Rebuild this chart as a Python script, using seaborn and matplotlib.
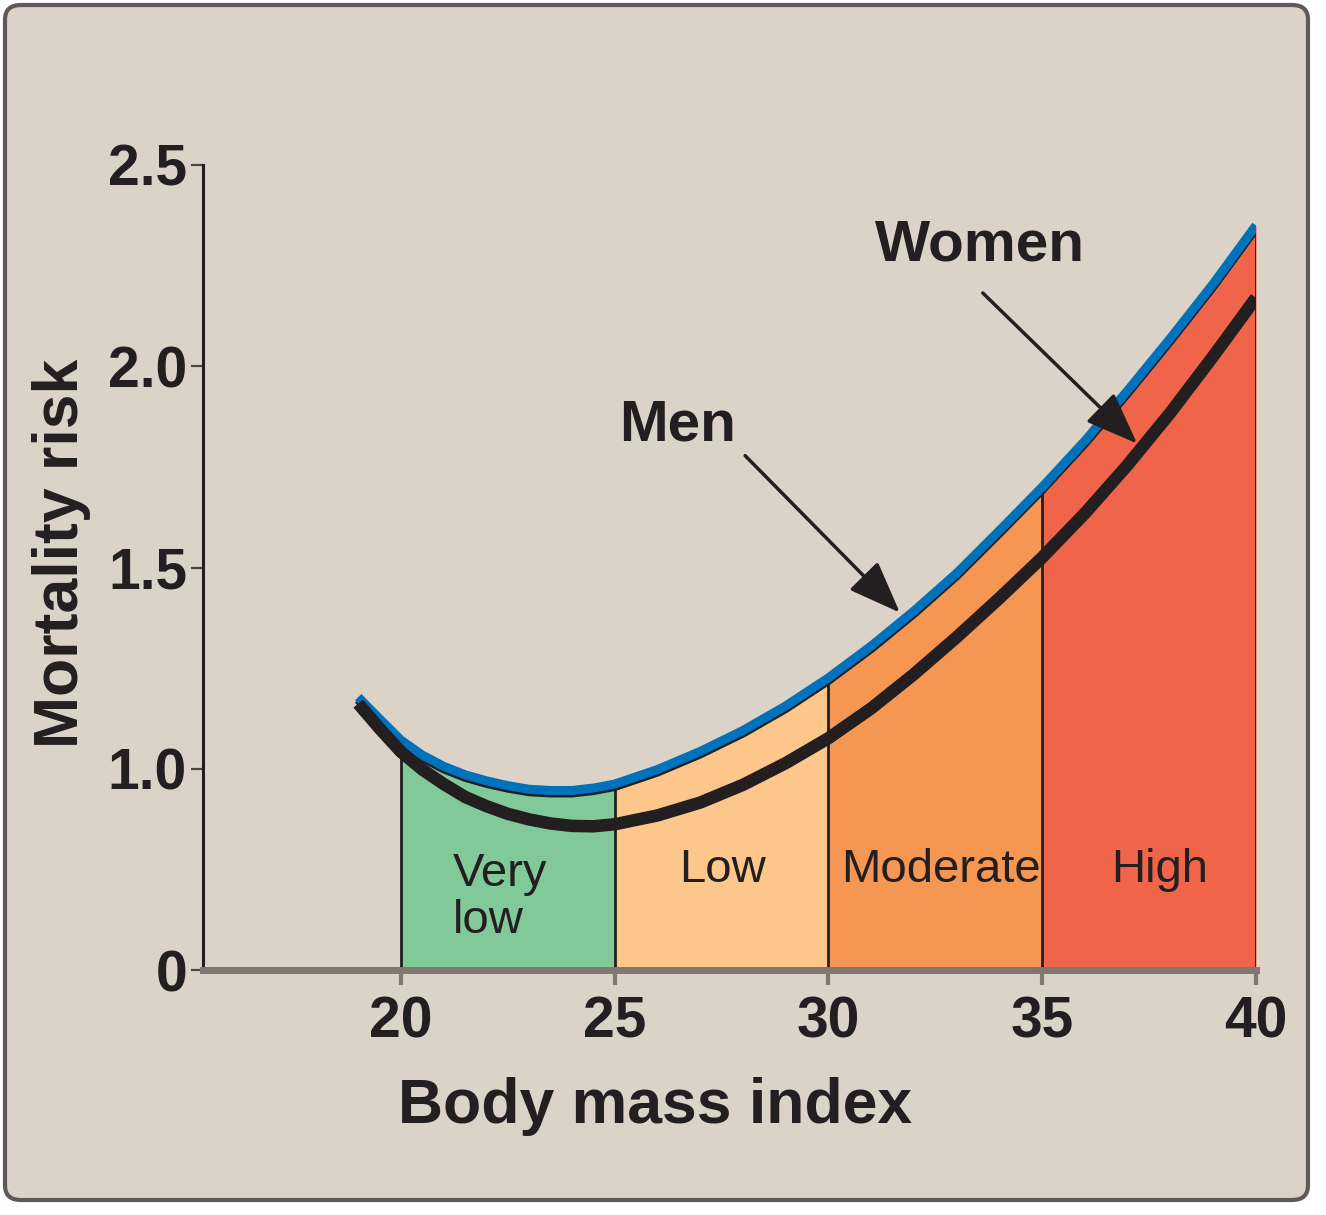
import numpy as np
import pandas as pd
import matplotlib.pyplot as plt
import matplotlib.patheffects as pe
from matplotlib.patches import FancyBboxPatch
import seaborn as sns

# values (y axis is broken: the "0" tick sits at 0.5)
bmi = [19, 19.5, 20, 20.5, 21, 21.5, 22, 22.5, 23, 23.5, 24, 24.5, 25,
       26, 27, 28, 29, 30, 31, 32, 33, 34, 35, 36, 37, 38, 39, 40]
men_risk = [1.178, 1.124, 1.071, 1.034, 1.006, 0.985, 0.970, 0.958, 0.949, 0.946, 0.946, 0.952, 0.962,
            0.998, 1.043, 1.095, 1.156, 1.226, 1.305, 1.392, 1.486, 1.592, 1.700,
            1.815, 1.940, 2.070, 2.205, 2.350]
women_risk = [1.162, 1.100, 1.042, 0.998, 0.962, 0.930, 0.907, 0.888, 0.874, 0.864, 0.858, 0.857, 0.862,
              0.884, 0.916, 0.960, 1.014, 1.076, 1.150, 1.235, 1.327, 1.424, 1.525,
              1.635, 1.755, 1.885, 2.025, 2.170]

band_edges = [20, 25, 30, 35, 40]
band_names = ['Very\nlow', 'Low', 'Moderate', 'High']
band_colors = ['#82C99A', '#FDC68A', '#F59653', '#F0654A']

x_ticks = [20, 25, 30, 35, 40]
y_ticks = [0.5, 1.0, 1.5, 2.0, 2.5]
y_tick_labels = ['0', '1.0', '1.5', '2.0', '2.5']

bg = '#DBD3C7'
ink = '#231F20'
gray = '#7F7770'

sns.set_theme(style='white')
plt.rcParams['font.family'] = ['Liberation Sans', 'DejaVu Sans']

df = pd.DataFrame({'bmi': bmi, 'men': men_risk, 'women': women_risk})

fig = plt.figure(figsize=(13.26, 12.15), dpi=100, facecolor='white')
frame = FancyBboxPatch((5 / 1326, 15 / 1215), 1303 / 1326, 1195 / 1215,
                       boxstyle='round,pad=0,rounding_size=0.012',
                       transform=fig.transFigure, facecolor=bg,
                       edgecolor='#5E5A58', lw=3, zorder=-10)
fig.patches.append(frame)

ax = fig.add_axes([203 / 1326, 1 - 970 / 1215, 1053 / 1326, 805 / 1215])
ax.set_zorder(1)
ax.set_facecolor('none')
ax.set_xlim(15.37, 40)
ax.set_ylim(y_ticks[0], y_ticks[-1])

# coloured risk bands under the upper curve
for i, name in enumerate(band_names):
    sub = df[(df['bmi'] >= band_edges[i]) & (df['bmi'] <= band_edges[i + 1])]
    ax.fill_between(sub['bmi'], y_ticks[0], sub['men'], color=band_colors[i], lw=0, zorder=1)

edge_tops = df.set_index('bmi').loc[band_edges, 'men'].values
ax.vlines(band_edges, y_ticks[0], edge_tops, color=ink, lw=2, zorder=2)

sns.lineplot(data=df, x='bmi', y='men', ax=ax, color='#0072BC', lw=6.5, zorder=3,
             solid_capstyle='butt',
             path_effects=[pe.SimpleLineShadow(offset=(0, -1.8), shadow_color=ink, alpha=1),
                           pe.Normal()])
sns.lineplot(data=df, x='bmi', y='women', ax=ax, color=ink, lw=9, zorder=4,
             solid_capstyle='butt')

# band labels
ax.text(21.22, 0.68, band_names[0], ha='left', va='center', fontsize=34, color=ink,
        linespacing=1.1, zorder=5)
for name, xc in zip(band_names[1:], [27.51, 32.63, 37.75]):
    ax.text(xc, 0.748, name, ha='center', va='center', fontsize=34, color=ink, zorder=5)

# curve labels with arrows
arrow = dict(arrowstyle='-|>,head_length=1.3,head_width=0.5', color=ink, lw=2.5,
             mutation_scale=25, shrinkA=0, shrinkB=0)
ax.text(26.48, 1.852, 'Men', ha='center', va='center', fontsize=42, fontweight='bold', color=ink)
ax.annotate('', xy=(31.67, 1.388), xytext=(28.05, 1.778), arrowprops=arrow, zorder=6)
ax.text(33.54, 2.30, 'Women', ha='center', va='center', fontsize=42, fontweight='bold', color=ink)
ax.annotate('', xy=(37.22, 1.808), xytext=(33.61, 2.182), arrowprops=arrow, zorder=6)

# axes styling
for s in ['top', 'right']:
    ax.spines[s].set_visible(False)
ax.spines['left'].set_color(ink)
ax.spines['left'].set_linewidth(2.2)
ax.spines['bottom'].set_color(gray)
ax.spines['bottom'].set_linewidth(5)
ax.spines['bottom'].set_zorder(2.5)

ax.set_xticks(x_ticks)
ax.set_xticklabels([str(t) for t in x_ticks], fontsize=41, fontweight='bold', color=ink)
ax.set_yticks(y_ticks)
ax.set_yticklabels(y_tick_labels, fontsize=41, fontweight='bold', color=ink)
ax.tick_params(axis='x', bottom=True, length=11, width=3, color=gray, pad=7)
ax.tick_params(axis='y', left=True, length=8.5, width=1.6, color='#4A4540', pad=3)

ax.set_xlabel('')
ax.set_ylabel('')
fig.text(655 / 1326, 1 - 1107 / 1215, 'Body mass index', ha='center', va='center',
         fontsize=45, fontweight='bold', color=ink)
fig.text(62 / 1326, 1 - 553 / 1215, 'Mortality risk', rotation=90, ha='center', va='center',
         fontsize=45, fontweight='bold', color=ink)

fig.savefig('out.png', dpi=100, facecolor='white')
